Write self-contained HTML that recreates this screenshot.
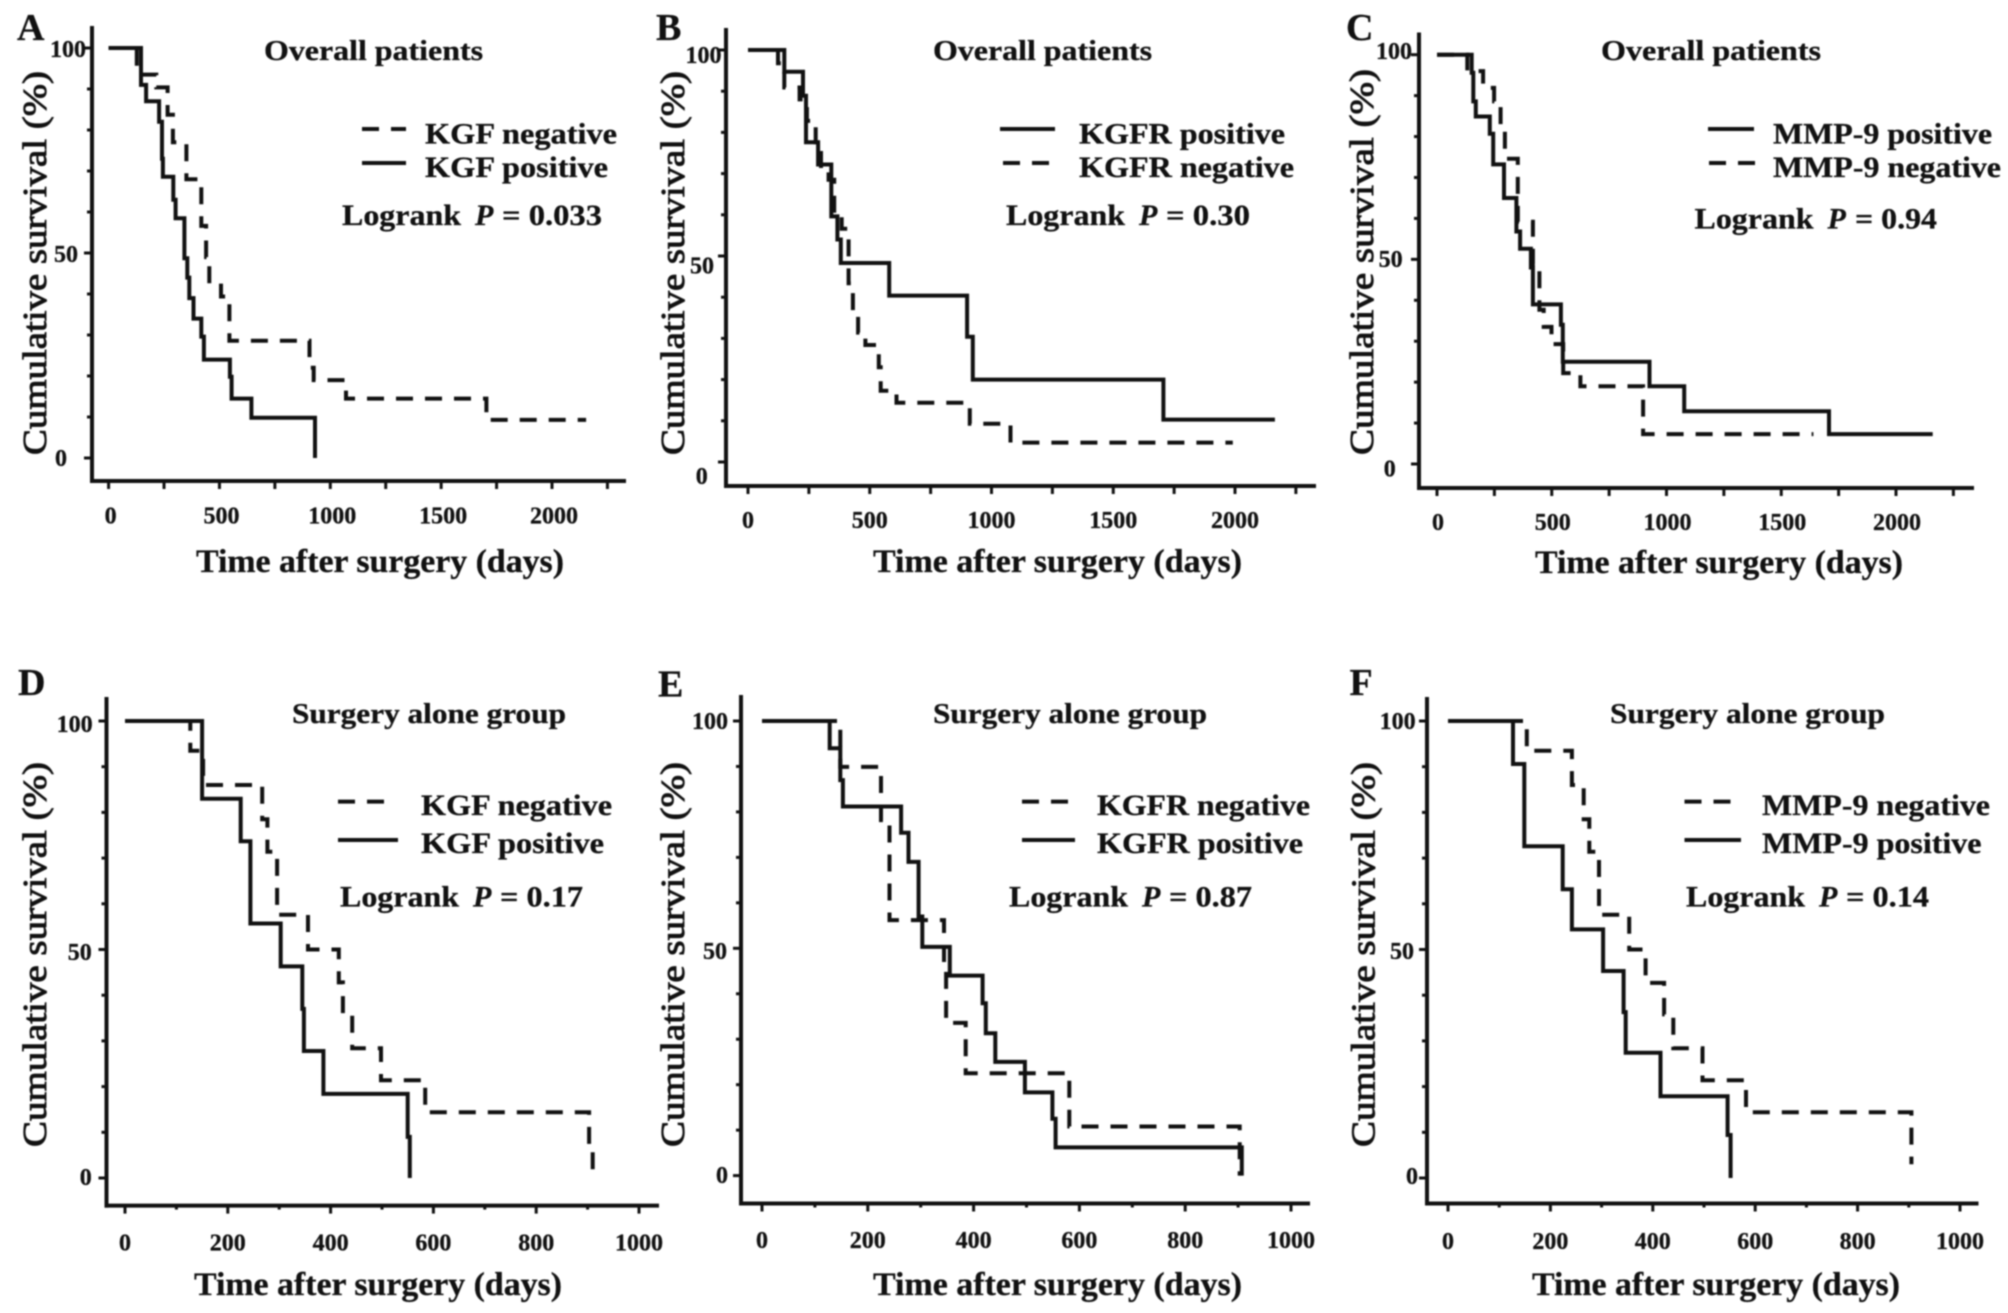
<!DOCTYPE html>
<html lang="en">
<head>
<meta charset="utf-8">
<title>Kaplan-Meier survival curves</title>
<style>
html,body{margin:0;padding:0;background:#fff;width:2008px;height:1313px;overflow:hidden}
svg{display:block;filter:blur(0.7px)}
text{font-family:"Liberation Serif",serif;font-weight:bold;fill:#111;stroke:#111;stroke-width:.3px}
.title{font-size:29px}
.leg{font-size:30px}
.log{font-size:30px}
.xt{font-size:33px}
.yt{font-size:34px;font-weight:normal;stroke:#111;stroke-width:.9px}
.let{font-size:38px}
.tick{font-size:24px}
.sample{stroke:#111;stroke-width:4px;fill:none}
.dash{stroke-dasharray:17 12}
</style>
</head>
<body>
<svg id="figure" xmlns="http://www.w3.org/2000/svg" width="2008" height="1313" viewBox="0 0 2008 1313">
<rect width="2008" height="1313" fill="#fff"/>

<g id="panel-a">
<text class="let" x="17" y="40">A</text>
<text class="title" x="264" y="60" textLength="219" lengthAdjust="spacingAndGlyphs">Overall patients</text>
<line class="sample dash" x1="362" y1="129" x2="406" y2="129"/>
<text class="leg" x="425" y="143.5" textLength="192" lengthAdjust="spacingAndGlyphs">KGF negative</text>
<line class="sample" x1="362" y1="163" x2="406" y2="163"/>
<text class="leg" x="425" y="177" textLength="183" lengthAdjust="spacingAndGlyphs">KGF positive</text>
<text class="log" x="342" y="225" textLength="119" lengthAdjust="spacingAndGlyphs">Logrank</text>
<text class="log" x="475" y="225" font-style="italic">P</text>
<text class="log" x="502" y="225" textLength="100" lengthAdjust="spacingAndGlyphs">= 0.033</text>
<text class="xt" x="196" y="572" textLength="368" lengthAdjust="spacingAndGlyphs">Time after surgery (days)</text>
<text class="yt" transform="translate(46,455) rotate(-90)" textLength="384" lengthAdjust="spacingAndGlyphs">Cumulative survival (%)</text>
</g>

<g id="panel-b">
<text class="let" x="656" y="40">B</text>
<text class="title" x="933" y="60" textLength="219" lengthAdjust="spacingAndGlyphs">Overall patients</text>
<line class="sample" x1="1000" y1="129" x2="1055" y2="129"/>
<text class="leg" x="1079" y="143.5" textLength="206" lengthAdjust="spacingAndGlyphs">KGFR positive</text>
<line class="sample dash" x1="1003" y1="163" x2="1049" y2="163"/>
<text class="leg" x="1079" y="177" textLength="215" lengthAdjust="spacingAndGlyphs">KGFR negative</text>
<text class="log" x="1006" y="225" textLength="119" lengthAdjust="spacingAndGlyphs">Logrank</text>
<text class="log" x="1139" y="225" font-style="italic">P</text>
<text class="log" x="1166" y="225" textLength="84" lengthAdjust="spacingAndGlyphs">= 0.30</text>
<text class="xt" x="873" y="572" textLength="369" lengthAdjust="spacingAndGlyphs">Time after surgery (days)</text>
<text class="yt" transform="translate(684,455) rotate(-90)" textLength="384" lengthAdjust="spacingAndGlyphs">Cumulative survival (%)</text>
</g>

<g id="panel-c">
<text class="let" x="1346" y="40">C</text>
<text class="title" x="1601" y="60" textLength="220" lengthAdjust="spacingAndGlyphs">Overall patients</text>
<line class="sample" x1="1708" y1="129" x2="1754" y2="129"/>
<text class="leg" x="1773" y="143.5" textLength="219" lengthAdjust="spacingAndGlyphs">MMP-9 positive</text>
<line class="sample dash" x1="1709" y1="163" x2="1756" y2="163"/>
<text class="leg" x="1773" y="177" textLength="228" lengthAdjust="spacingAndGlyphs">MMP-9 negative</text>
<text class="log" x="1694.5" y="228.5" textLength="119" lengthAdjust="spacingAndGlyphs">Logrank</text>
<text class="log" x="1827.5" y="228.5" font-style="italic">P</text>
<text class="log" x="1855" y="228.5" textLength="82" lengthAdjust="spacingAndGlyphs">= 0.94</text>
<text class="xt" x="1535" y="573" textLength="368" lengthAdjust="spacingAndGlyphs">Time after surgery (days)</text>
<text class="yt" transform="translate(1373,455) rotate(-90)" textLength="386" lengthAdjust="spacingAndGlyphs">Cumulative survival (%)</text>
</g>

<g id="panel-d">
<text class="let" x="18" y="695">D</text>
<text class="title" x="292" y="723" textLength="274" lengthAdjust="spacingAndGlyphs">Surgery alone group</text>
<line class="sample dash" x1="338" y1="801.6" x2="385" y2="801.6"/>
<text class="leg" x="421" y="815" textLength="191" lengthAdjust="spacingAndGlyphs">KGF negative</text>
<line class="sample" x1="338" y1="840" x2="398" y2="840"/>
<text class="leg" x="421" y="853" textLength="183" lengthAdjust="spacingAndGlyphs">KGF positive</text>
<text class="log" x="340" y="906.6" textLength="119" lengthAdjust="spacingAndGlyphs">Logrank</text>
<text class="log" x="473" y="906.6" font-style="italic">P</text>
<text class="log" x="500" y="906.6" textLength="83" lengthAdjust="spacingAndGlyphs">= 0.17</text>
<text class="xt" x="194" y="1295" textLength="368" lengthAdjust="spacingAndGlyphs">Time after surgery (days)</text>
<text class="yt" transform="translate(46,1147) rotate(-90)" textLength="385" lengthAdjust="spacingAndGlyphs">Cumulative survival (%)</text>
</g>

<g id="panel-e">
<text class="let" x="658" y="696.6">E</text>
<text class="title" x="933" y="723" textLength="274" lengthAdjust="spacingAndGlyphs">Surgery alone group</text>
<line class="sample dash" x1="1022" y1="801.6" x2="1068.5" y2="801.6"/>
<text class="leg" x="1097" y="815" textLength="213" lengthAdjust="spacingAndGlyphs">KGFR negative</text>
<line class="sample" x1="1022" y1="840" x2="1075" y2="840"/>
<text class="leg" x="1097" y="853" textLength="206" lengthAdjust="spacingAndGlyphs">KGFR positive</text>
<text class="log" x="1009" y="906.6" textLength="119" lengthAdjust="spacingAndGlyphs">Logrank</text>
<text class="log" x="1142" y="906.6" font-style="italic">P</text>
<text class="log" x="1169" y="906.6" textLength="83" lengthAdjust="spacingAndGlyphs">= 0.87</text>
<text class="xt" x="873" y="1295" textLength="369" lengthAdjust="spacingAndGlyphs">Time after surgery (days)</text>
<text class="yt" transform="translate(684,1147) rotate(-90)" textLength="385" lengthAdjust="spacingAndGlyphs">Cumulative survival (%)</text>
</g>

<g id="panel-f">
<text class="let" x="1349.5" y="695">F</text>
<text class="title" x="1610" y="723" textLength="275" lengthAdjust="spacingAndGlyphs">Surgery alone group</text>
<line class="sample dash" x1="1684.5" y1="801.6" x2="1731" y2="801.6"/>
<text class="leg" x="1762" y="815" textLength="228" lengthAdjust="spacingAndGlyphs">MMP-9 negative</text>
<line class="sample" x1="1684.5" y1="840" x2="1741" y2="840"/>
<text class="leg" x="1762" y="853" textLength="219.5" lengthAdjust="spacingAndGlyphs">MMP-9 positive</text>
<text class="log" x="1686" y="906.6" textLength="119" lengthAdjust="spacingAndGlyphs">Logrank</text>
<text class="log" x="1819" y="906.6" font-style="italic">P</text>
<text class="log" x="1846" y="906.6" textLength="83" lengthAdjust="spacingAndGlyphs">= 0.14</text>
<text class="xt" x="1532" y="1295" textLength="368" lengthAdjust="spacingAndGlyphs">Time after surgery (days)</text>
<text class="yt" transform="translate(1374.5,1147) rotate(-90)" textLength="385" lengthAdjust="spacingAndGlyphs">Cumulative survival (%)</text>
</g>
</svg>

<script>
// Axis values
var yTickValues = [0,10,20,30,40,50,60,70,80,90,100];
var yTickLabels = [100,50,0];
var overallXTicks = [0,250,500,750,1000,1250,1500,1750,2000,2250];
var overallXLabels = [0,500,1000,1500,2000];
var surgeryXTicks = [0,100,200,300,400,500,600,700,800,900,1000];
var surgeryXLabels = [0,200,400,600,800,1000];

// Panel A: KGF, overall patients
var aNegTimes = [127,215,266,290,351,418,440,454,507,545,906,925,1071,1704];
var aNegSurvival = [93.5,90.4,83.7,77,68,56.6,49,42.6,39.4,28.6,22,19,14.5,9.3];
var aNegEnd = 2154;
var aPosTimes = [146,169,228,241,245,292,302,342,355,364,383,418,430,547,555,644,931];
var aPosSurvival = [91,87,82,73,68.6,63,58.5,48.7,44,39,34,29.6,24,19.8,14.5,9.8,0];
var aPosEnd = 931;

// Panel B: KGFR, overall patients
var bPosTimes = [149,226,238,288,342,367,381,580,900,923,1706];
var bPosSurvival = [94.7,88.9,77.6,72.2,59.6,54,48.3,40.4,30.4,20,10.3];
var bPosEnd = 2164;
var bNegTimes = [123,149,212,242,278,300,331,354,385,413,431,452,482,537,545,610,911,1078];
var bNegSurvival = [96.8,90.9,88,82.8,77,71,68.5,60,56.6,43.4,36.5,31.4,28.4,23,17.3,14.4,9.3,4.7];
var bNegEnd = 1991;

// Panel C: MMP-9, overall patients
var cPosTimes = [151,158,169,230,245,292,346,362,409,418,540,548,926,1077,1708];
var cPosSurvival = [95.6,88.6,84.9,80.7,73.2,65,56.8,52.6,48,39,34,25,19,12.9,7.3];
var cPosEnd = 2160;
var cNegTimes = [132,201,249,277,296,352,418,446,465,499,550,625,898];
var cNegSurvival = [96,91.9,88.6,81.6,74.6,59.2,48.9,37.7,33.5,29.3,22.2,19,7.3];
var cNegEnd = 1640;

// Panel D: KGF, surgery alone
var dNegTimes = [127,152,267,277,296,356,416,424,442,498,584,903,910];
var dNegSurvival = [93.5,86,78.5,71.4,57.6,50,42.8,35.8,28.4,21.4,14.4,7,0];
var dNegEnd = 910;
var dPosTimes = [150,225,244,303,345,348,386,550,554];
var dPosSurvival = [83,73.7,55.7,46.3,37,27.8,18.4,9,0];
var dPosEnd = 554;

// Panel E: KGFR, surgery alone
var eNegTimes = [148,225,241,344,348,385,581,903];
var eNegSurvival = [89.9,78.2,56.2,45,33.6,22.5,10.8,0];
var eNegEnd = 903;
var ePosTimes = [128,148,153,263,277,296,303,355,417,423,441,497,549,555,907];
var ePosSurvival = [94,87,81.2,75.4,69,57,50.3,44,37.9,31.3,25,18.3,12.5,6.2,0];
var ePosEnd = 907;

// Panel F: MMP-9, surgery alone
var fNegTimes = [154,242,265,276,295,354,386,422,440,497,582,905];
var fNegSurvival = [93.5,86,78.5,71.4,57.6,50,42.7,35.8,28.4,21.4,14.4,3];
var fNegEnd = 905;
var fPosTimes = [127,149,224,242,303,343,347,415,546,552];
var fPosSurvival = [90.6,72.6,63.2,54.4,45.3,36.3,27.4,17.9,9.4,0];
var fPosEnd = 552;

var NS = 'http://www.w3.org/2000/svg';

function makeXScale(x0, xRef, refValue) {
  return function (v) { return x0 + (xRef - x0) * v / refValue; };
}
function makeYScale(y0, y100) {
  return function (v) { return y0 + (y100 - y0) * v / 100; };
}

function stepPath(xs, ys, times, survival, end) {
  var d = 'M' + xs(0).toFixed(1) + ' ' + ys(100).toFixed(1);
  for (var i = 0; i < times.length; i++) {
    d += 'H' + xs(times[i]).toFixed(1) + 'V' + ys(survival[i]).toFixed(1);
  }
  d += 'H' + xs(end).toFixed(1);
  return d;
}

function drawLine(group, x1, y1, x2, y2, width, name) {
  var el = document.createElementNS(NS, 'line');
  el.setAttribute('x1', x1);
  el.setAttribute('y1', y1);
  el.setAttribute('x2', x2);
  el.setAttribute('y2', y2);
  el.setAttribute('stroke', '#111');
  el.setAttribute('stroke-width', width);
  
  
  group.appendChild(el);
}

function drawLabel(group, x, y, anchor, value, name) {
  var el = document.createElementNS(NS, 'text');
  el.setAttribute('class', 'tick');
  el.setAttribute('x', x);
  el.setAttribute('y', y);
  el.setAttribute('text-anchor', anchor);
  el.textContent = String(value);
  
  
  group.appendChild(el);
}

function drawSeries(group, xs, ys, times, survival, end, dashed, name) {
  var el = document.createElementNS(NS, 'path');
  el.setAttribute('d', stepPath(xs, ys, times, survival, end));
  el.setAttribute('fill', 'none');
  el.setAttribute('stroke', '#111');
  el.setAttribute('stroke-width', '4');
  if (dashed) { el.setAttribute('stroke-dasharray', '17 12'); }
  
  
  group.appendChild(el);
}

function drawPanel(p) {
  var group = document.getElementById('panel-' + p.id);
  var xs = makeXScale(p.x0, p.xRef, p.refValue);
  var ys = makeYScale(p.y0, p.y100);

  drawLine(group, p.axisX, p.top, p.axisX, p.bottom + 2, 4, 'panel-' + p.id + '-y-axis');
  drawLine(group, p.axisX - 2, p.bottom, p.xEnd, p.bottom, 4, 'panel-' + p.id + '-x-axis');

  p.xTicks.forEach(function (v) {
    var isMajor = p.xLabels.indexOf(v) >= 0;
    var len = p.shortMinor && !isMajor ? 4 : 8;
    drawLine(group, xs(v), p.bottom, xs(v), p.bottom + len, 3, 'panel-' + p.id + '-x-tick');
  });
  p.xLabels.forEach(function (v) {
    drawLabel(group, xs(v) + p.xLabelDx, p.xLabelY, 'middle', v, 'panel-' + p.id + '-x-tick-label');
  });

  yTickValues.forEach(function (v) {
    var len = yTickLabels.indexOf(v) >= 0 ? 8 : 5;
    drawLine(group, p.axisX - len, ys(v), p.axisX, ys(v), 3, 'panel-' + p.id + '-y-tick');
  });
  yTickLabels.forEach(function (v, i) {
    drawLabel(group, p.yLabelRight[i], p.yLabelBase[i], 'end', v, 'panel-' + p.id + '-y-tick-label');
  });

  drawSeries(group, xs, ys, p.negTimes, p.negSurvival, p.negEnd, true, 'panel-' + p.id + '-negative-curve');
  drawSeries(group, xs, ys, p.posTimes, p.posSurvival, p.posEnd, false, 'panel-' + p.id + '-positive-curve');
}

drawPanel({id:'a',axisX:92,top:26,bottom:481,xEnd:626,x0:108.6,xRef:552,refValue:2000,y0:458,y100:48,
  xTicks:overallXTicks,xLabels:overallXLabels,xLabelDx:2,xLabelY:523.5,shortMinor:false,
  yLabelRight:[86,78,67],yLabelBase:[57,262,466],
  negTimes:aNegTimes,negSurvival:aNegSurvival,negEnd:aNegEnd,posTimes:aPosTimes,posSurvival:aPosSurvival,posEnd:aPosEnd});
drawPanel({id:'b',axisX:726,top:28,bottom:486,xEnd:1316,x0:748,xRef:1235,refValue:2000,y0:462,y100:50,
  xTicks:overallXTicks,xLabels:overallXLabels,xLabelDx:0,xLabelY:528,shortMinor:false,
  yLabelRight:[721.5,714,707.7],yLabelBase:[63,273.6,484],
  negTimes:bNegTimes,negSurvival:bNegSurvival,negEnd:bNegEnd,posTimes:bPosTimes,posSurvival:bPosSurvival,posEnd:bPosEnd});
drawPanel({id:'c',axisX:1419,top:32.5,bottom:488,xEnd:1974,x0:1437,xRef:1896,refValue:2000,y0:464,y100:54.7,
  xTicks:overallXTicks,xLabels:overallXLabels,xLabelDx:1,xLabelY:530,shortMinor:false,
  yLabelRight:[1412,1402.6,1395.7],yLabelBase:[59,267,476.5],
  negTimes:cNegTimes,negSurvival:cNegSurvival,negEnd:cNegEnd,posTimes:cPosTimes,posSurvival:cPosSurvival,posEnd:cPosEnd});
drawPanel({id:'d',axisX:106.5,top:697,bottom:1205.6,xEnd:659,x0:125,xRef:639,refValue:1000,y0:1178,y100:721,
  xTicks:surgeryXTicks,xLabels:surgeryXLabels,xLabelDx:0,xLabelY:1250.6,shortMinor:true,
  yLabelRight:[92.6,91.7,91.7],yLabelBase:[732,960,1185],
  negTimes:dNegTimes,negSurvival:dNegSurvival,negEnd:dNegEnd,posTimes:dPosTimes,posSurvival:dPosSurvival,posEnd:dPosEnd});
drawPanel({id:'e',axisX:741,top:695,bottom:1203.5,xEnd:1310,x0:762,xRef:1291,refValue:1000,y0:1175.6,y100:721,
  xTicks:surgeryXTicks,xLabels:surgeryXLabels,xLabelDx:0,xLabelY:1248,shortMinor:true,
  yLabelRight:[728,727,728],yLabelBase:[729,959,1183],
  negTimes:eNegTimes,negSurvival:eNegSurvival,negEnd:eNegEnd,posTimes:ePosTimes,posSurvival:ePosSurvival,posEnd:ePosEnd});
drawPanel({id:'f',axisX:1427,top:697,bottom:1203.5,xEnd:1978.5,x0:1448,xRef:1960,refValue:1000,y0:1178,y100:721,
  xTicks:surgeryXTicks,xLabels:surgeryXLabels,xLabelDx:0,xLabelY:1249,shortMinor:true,
  yLabelRight:[1415.6,1414,1418],yLabelBase:[729,959,1184],
  negTimes:fNegTimes,negSurvival:fNegSurvival,negEnd:fNegEnd,posTimes:fPosTimes,posSurvival:fPosSurvival,posEnd:fPosEnd});
</script>
</body>
</html>
